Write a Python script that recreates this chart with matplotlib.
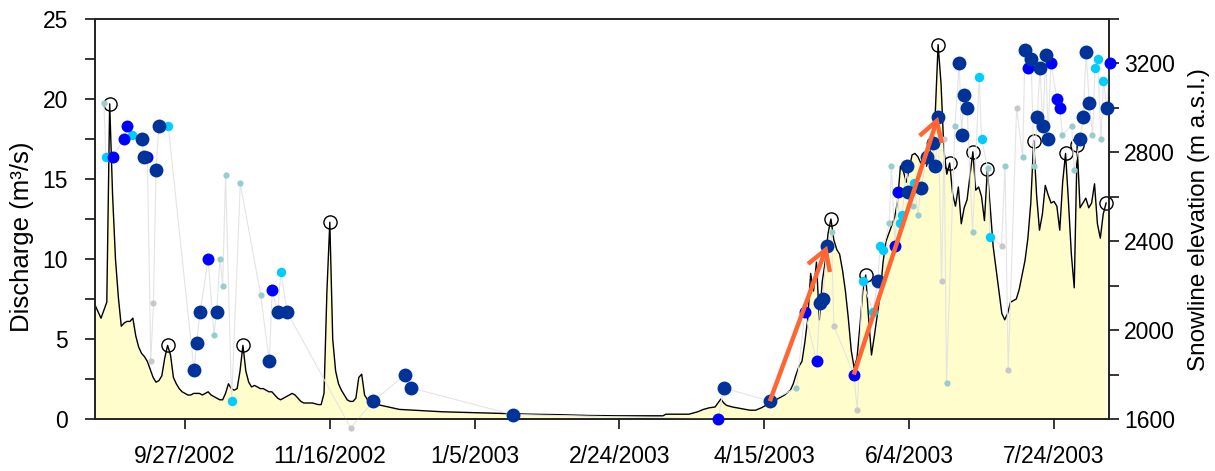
import numpy as np
import matplotlib
matplotlib.use("Agg")
import matplotlib.pyplot as plt
import matplotlib.dates as mdates
from matplotlib.ticker import FixedLocator, MultipleLocator, FuncFormatter
from datetime import datetime

plt.rcParams['font.family'] = ['Liberation Sans', 'DejaVu Sans']

# Day offsets below are counted from this date
START = datetime(2002, 8, 27)

# Daily discharge (m3/s)
q_day = [0, 2, 4, 5, 6, 7, 8, 9, 10, 11, 12, 13, 14, 15, 16, 17, 18, 19, 20,
         21, 22, 23, 24, 25, 26, 27, 28, 29, 30, 31, 32, 33, 34, 35, 36, 37,
         38, 39, 40, 41, 42, 43, 44, 45, 46, 47, 48, 49, 50, 51, 52, 53, 54,
         55, 56, 57, 58, 59, 60, 61, 62, 63, 64, 65, 66, 67, 68, 69, 70, 71,
         72, 73, 74, 75, 76, 77, 78, 79, 80, 81, 82, 83, 84, 85, 86, 87, 88,
         89, 90, 91, 92, 93, 94, 95, 100, 105, 110, 120, 130, 140, 150, 160,
         170, 180, 190, 196, 197, 205, 208, 210, 212, 214, 215, 216, 217, 218,
         220, 223, 226, 228, 230, 232, 234, 236, 238, 240, 241, 242, 243, 244,
         245, 246, 247, 248, 249, 250, 251, 252, 253, 254, 255, 256, 257, 258,
         259, 260, 261, 262, 263, 264, 265, 266, 267, 268, 269, 270, 271, 272,
         273, 274, 275, 276, 277, 278, 279, 280, 281, 282, 283, 284, 285, 286,
         287, 288, 289, 290, 291, 292, 293, 294, 295, 296, 297, 298, 299, 300,
         301, 302, 303, 304, 305, 306, 307, 308, 309, 310, 311, 312, 313, 314,
         315, 316, 317, 318, 319, 320, 321, 322, 323, 324, 325, 326, 327, 328,
         329, 330, 331, 332, 333, 334, 335, 336, 337, 338, 339, 340, 341, 342,
         343, 344, 345, 346, 347, 348, 349]
q_val = [7.1, 6.3, 7.3, 19.7, 14.0, 10.0, 7.6, 5.8, 6.0, 6.1, 6.1, 6.3, 5.2,
         4.5, 4.1, 3.9, 3.6, 3.1, 2.6, 2.3, 2.4, 2.7, 3.8, 4.6, 4.0, 2.6, 2.2,
         1.9, 1.7, 1.6, 1.5, 1.5, 1.6, 1.6, 1.6, 1.5, 1.6, 1.7, 1.5, 1.4, 1.3,
         1.2, 1.2, 1.6, 2.2, 1.9, 1.8, 1.9, 3.0, 4.6, 3.0, 2.3, 2.0, 2.1, 2.0,
         1.9, 1.9, 1.8, 1.7, 1.7, 1.5, 1.3, 1.2, 1.3, 1.4, 1.5, 1.6, 1.5, 1.3,
         1.1, 1.0, 1.0, 1.0, 1.0, 0.95, 0.9, 0.9, 1.6, 8.0, 12.3, 5.0, 3.0,
         2.2, 1.8, 1.5, 1.2, 1.1, 1.1, 1.3, 2.6, 2.8, 1.5, 1.2, 1.0, 0.8, 0.6,
         0.55, 0.45, 0.4, 0.35, 0.3, 0.27, 0.22, 0.2, 0.2, 0.2, 0.3, 0.3,
         0.45, 0.6, 0.7, 0.75, 1.0, 1.25, 1.0, 0.85, 0.75, 0.65, 0.55, 0.55,
         0.7, 0.9, 1.1, 1.3, 1.5, 1.8, 2.2, 2.8, 3.3, 3.6, 4.8, 6.3, 9.1, 8.0,
         9.8, 6.2, 8.6, 9.8, 11.6, 12.5, 11.2, 10.6, 10.3, 9.3, 8.0, 6.3, 4.3,
         3.2, 3.8, 5.8, 8.0, 9.0, 6.3, 4.0, 5.2, 6.5, 7.8, 9.8, 11.1, 11.6,
         12.1, 12.6, 13.6, 15.8, 15.5, 14.8, 15.6, 16.5, 16.6, 16.4, 16.0,
         16.3, 15.8, 16.5, 17.5, 19.0, 23.4, 21.0, 16.8, 15.3, 16.0, 14.1,
         13.3, 14.5, 12.2, 13.2, 13.7, 15.2, 16.7, 14.3, 14.5, 13.9, 12.4,
         15.6, 13.2, 10.8, 9.4, 8.0, 6.6, 6.2, 6.6, 7.3, 7.4, 7.5, 8.1, 9.0,
         9.9, 11.3, 13.5, 17.4, 14.0, 11.8, 12.8, 14.6, 14.0, 13.5, 13.6,
         13.3, 11.8, 14.8, 16.6, 13.6, 10.3, 8.2, 17.1, 13.2, 13.5, 13.8,
         13.2, 13.5, 14.7, 12.2, 11.3, 12.8, 13.5]

# Discharge peaks marked with open circles
peak_day = [5, 25, 51, 81, 254, 266, 291, 295, 303, 308, 324, 335, 339, 349]

# Snowline observations: day offset, elevation (m a.s.l.), class 0..4
snow_day = [3.0, 3.7, 6.0, 10.0, 11.1, 12.6, 16.1, 16.8, 18.0, 19.2, 20.1,
            21.0, 22.0, 25.2, 34.1, 35.0, 36.2, 39.0, 41.0, 41.9, 43.1, 44.0,
            45.0, 47.1, 50.1, 57.1, 60.1, 61.1, 63.0, 64.1, 66.3, 88.2, 96.0,
            107.0, 109.0, 144.1, 215.1, 217.0, 232.9, 242.1, 245.0, 249.1,
            250.2, 251.1, 252.7, 254.2, 255.0, 261.9, 263.1, 264.9, 268.6,
            270.1, 271.1, 272.0, 274.1, 274.9, 276.1, 277.0, 277.8, 278.6,
            280.1, 280.7, 282.2, 282.6, 284.1, 285.0, 287.2, 289.1, 290.1,
            291.0, 292.2, 293.1, 293.9, 296.8, 298.3, 299.1, 299.9, 301.0,
            302.9, 305.2, 306.0, 308.1, 308.9, 312.9, 314.1, 315.2, 318.1,
            320.2, 321.0, 322.1, 323.1, 324.1, 325.2, 326.2, 327.1, 328.2,
            329.0, 329.9, 332.1, 333.0, 333.9, 337.1, 338.0, 340.0, 341.1,
            342.1, 343.2, 344.3, 345.2, 346.1, 347.2, 348.1, 349.3, 350.2]
snow_elev = [3020, 2780, 2780, 2860, 2920, 2880, 2860, 2780, 2780, 1860, 2120,
             2720, 2920, 2920, 1820, 1940, 2080, 2320, 1980, 2080, 2320, 2200,
             2700, 1680, 2660, 2160, 1860, 2180, 2080, 2260, 2080, 1560, 1680,
             1800, 1740, 1620, 1600, 1740, 1680, 1740, 2080, 1860,
             2120, 2140, 2380, 2440, 2020, 1800, 1640, 2220, 2080,
             2220, 2380, 2360, 2480, 2740, 2380, 2620, 2480, 2520,
             2740, 2620, 2560, 2660, 2520, 2640, 2780, 2840, 2740,
             2960, 2220, 2860, 1760, 2920, 3200, 2880, 3060, 3000,
             2440, 3140, 2860, 2730, 2420, 2380, 2740, 1820, 3000,
             2780, 3260, 3180, 3220, 2740, 2960, 3180, 2920, 3240,
             2860, 3200, 3040, 3000, 2880, 2920, 2720, 2860, 2960,
             3250, 3020, 2880, 3180, 3220, 2860, 3120, 3000, 3200]
snow_class = [3, 2, 1, 1, 1, 2, 0, 0, 1, 4, 4,
              0, 0, 2, 0, 0, 0, 1, 3, 0, 3, 3,
              3, 2, 3, 3, 0, 1, 0, 2, 0, 4, 0,
              0, 0, 0, 1, 0, 0, 3, 1, 1,
              0, 0, 0, 3, 4, 1, 4, 2, 2,
              0, 2, 2, 3, 3, 1, 1, 2, 2,
              0, 0, 3, 2, 3, 0, 0, 0, 0,
              0, 4, 4, 3, 3, 0, 0, 0, 0,
              3, 2, 2, 3, 2, 4, 3, 4, 4,
              3, 0, 1, 0, 3, 0, 0, 0, 0,
              0, 1, 1, 1, 3, 3, 3, 0, 0,
              0, 0, 3, 2, 2, 3, 2, 0, 1]

class_colors = ['#003399', '#0000FF', '#00CCFF', '#99CCCC', '#C8C8C8']
class_sizes = [10.0, 8.6, 6.8, 4.5, 4.5]

# Snowline rises highlighted with arrows (start day, end day)
arrow_from_day = [232.9, 261.9]
arrow_to_day = [252.7, 291.0]

date_ticks = [datetime(2002, 9, 27), datetime(2002, 11, 16),
              datetime(2003, 1, 5), datetime(2003, 2, 24),
              datetime(2003, 4, 15), datetime(2003, 6, 4),
              datetime(2003, 7, 24)]

t0 = mdates.date2num(START)
qx = t0 + np.asarray(q_day, dtype=float)
qv = np.asarray(q_val, dtype=float)
sx = t0 + np.asarray(snow_day, dtype=float)
sv = np.asarray(snow_elev, dtype=float)
sc = np.asarray(snow_class)

W, H = 1215, 471
fig = plt.figure(figsize=(W / 100, H / 100), dpi=100)
ax = fig.add_axes([95.2 / W, 1 - 419 / H, (1109 - 95.2) / W, 400 / H])

# Discharge: filled area with outline
ax.fill_between(qx, 0, qv, color='#FFFDCC', lw=0, zorder=1)
ax.plot(qx, qv, color='black', lw=1.0, zorder=2)
pk = np.array([q_val[q_day.index(d)] for d in peak_day])
ax.plot(t0 + np.array(peak_day, dtype=float), pk, 'o', ms=9.5, mfc='none',
        mec='black', mew=1.0, zorder=3, clip_on=False)

ax.set_xlim(t0, t0 + 350)
ax.set_ylim(0, 25)

ax2 = ax.twinx()
ax2.set_ylim(1600, 3400)

# Snowline series: thin connector then the classified points
ax2.plot(sx, sv, color='#E4E4E4', lw=0.8, zorder=1, clip_on=False)
for k in range(len(class_colors)):
    m = sc == k
    ax2.plot(sx[m], sv[m], 'o', ls='none', ms=class_sizes[k],
             mfc=class_colors[k], mec='none', zorder=2.5 + (4 - k) * 0.01,
             clip_on=False)

for a, b in zip(arrow_from_day, arrow_to_day):
    ia = snow_day.index(a)
    ib = snow_day.index(b)
    ax2.annotate('', xy=(sx[ib], sv[ib]), xytext=(sx[ia], sv[ia]),
                 arrowprops=dict(arrowstyle='->,head_length=0.7,head_width=0.42',
                                 mutation_scale=20, color='#FF6633', lw=3.2,
                                 shrinkA=0, shrinkB=0, joinstyle='miter',
                                 capstyle='butt'),
                 zorder=5, annotation_clip=False)

# Axes styling
ax.xaxis.set_major_locator(FixedLocator(mdates.date2num(date_ticks)))
ax.xaxis.set_major_formatter(FuncFormatter(
    lambda v, p: (lambda d: f"{d.month}/{d.day}/{d.year}")(mdates.num2date(v))))
ax.yaxis.set_major_locator(MultipleLocator(5))
ax.yaxis.set_minor_locator(MultipleLocator(2.5))
ax2.yaxis.set_major_locator(FixedLocator([1600, 2000, 2400, 2800, 3200]))
ax2.yaxis.set_minor_locator(MultipleLocator(200))

for a_ in (ax, ax2):
    for s in a_.spines.values():
        s.set_linewidth(1.2)
        s.set_color('#222222')

ax.tick_params(axis='x', which='major', direction='out', length=7.5, width=1.1,
               labelsize=16.5, pad=11)
ax.tick_params(axis='y', which='both', direction='out', length=7.5, width=1.1,
               labelsize=16.5, pad=12)
ax2.tick_params(axis='y', which='both', direction='out', length=7.5, width=1.1,
                labelsize=16.5, pad=3.5)

fig.text(22 / W, 1 - 237 / H, 'Discharge (m³/s)', rotation=90, ha='center',
         va='center', fontsize=18.5)
fig.text(1199 / W, 1 - 220 / H, 'Snowline elevation (m a.s.l.)', rotation=90,
         ha='center', va='center', fontsize=17.5)

fig.savefig('out.png', dpi=100)
